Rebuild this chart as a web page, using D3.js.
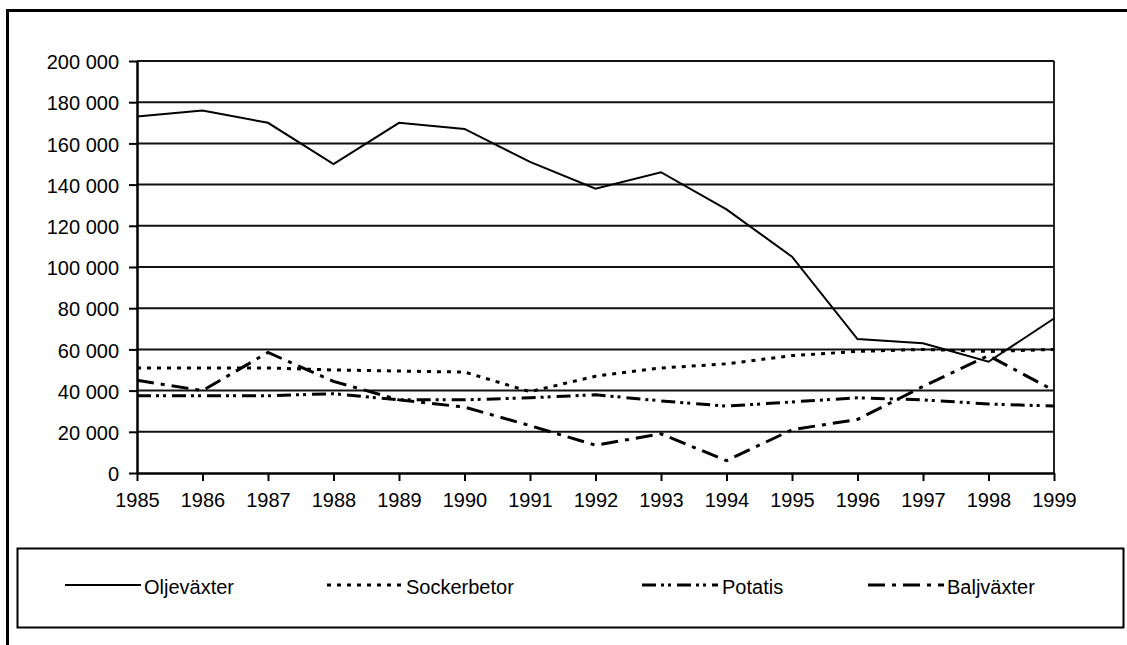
<!DOCTYPE html>
<html>
<head>
<meta charset="utf-8">
<script src="https://cdn.jsdelivr.net/npm/d3@7"></script>
<style>
  body { margin: 0; background: #fff; }
  svg text { font-family: "Liberation Sans", Arial, sans-serif; font-size: 20px; fill: #000; }
</style>
</head>
<body>
<div class="viz"></div>
<script>
// data (hectares per year)
var years = [1985, 1986, 1987, 1988, 1989, 1990, 1991, 1992, 1993, 1994, 1995, 1996, 1997, 1998, 1999];
var oljevaxter = [173000, 176000, 170000, 150000, 170000, 167000, 151000, 138000, 146000, 128000, 105000, 65000, 63000, 54000, 75000];
var sockerbetor = [51000, 51000, 51000, 50000, 49500, 49000, 39500, 47000, 51000, 53000, 57000, 59000, 60000, 59000, 60000];
var potatis = [37500, 37500, 37500, 38500, 35500, 35500, 36500, 38000, 35000, 32500, 34500, 36500, 35500, 33500, 32500];
var baljvaxter = [45000, 40000, 58500, 44500, 35500, 32000, 23000, 13500, 19000, 6000, 21000, 26000, 42000, 57000, 40000];
var seriesNames = ['Oljeväxter', 'Sockerbetor', 'Potatis', 'Baljväxter'];
var yTicks = [0, 20000, 40000, 60000, 80000, 100000, 120000, 140000, 160000, 180000, 200000];

var width = 1127, height = 645;
var plot = { left: 137, right: 1054, top: 61, bottom: 473 };

var styles = [
    { dash: null, width: 2 },
    { dash: '4,6', width: 3 },
    { dash: '14,5,3,4,3,6', width: 3 },
    { dash: '17,7,4,7', width: 3 }
];

var svg = d3.select('.viz').append('svg')
    .attr('width', width)
    .attr('height', height);

// outer frame (only top and left edges are visible in the crop)
svg.append('path')
    .attr('d', 'M7.5,' + height + 'V10.5H' + width)
    .attr('fill', 'none')
    .attr('stroke', '#000')
    .attr('stroke-width', 3);

var x = d3.scalePoint()
    .domain(years)
    .range([plot.left, plot.right])
    .padding(0);

var y = d3.scaleLinear()
    .domain([0, 200000])
    .range([plot.bottom, plot.top]);

var se = d3.formatLocale({ decimal: ',', thousands: ' ', grouping: [3], currency: ['', ''] });
var fmt = se.format(',d');

// gridlines
svg.append('g').selectAll('line')
    .data(yTicks.filter(function (d) { return d > 0; }))
    .enter().append('line')
    .attr('x1', plot.left)
    .attr('x2', plot.right)
    .attr('y1', function (d) { return y(d); })
    .attr('y2', function (d) { return y(d); })
    .attr('stroke', '#111')
    .attr('stroke-width', 2);

// right edge of plot
svg.append('line')
    .attr('x1', plot.right).attr('x2', plot.right)
    .attr('y1', plot.top).attr('y2', plot.bottom)
    .attr('stroke', '#222')
    .attr('stroke-width', 2);

var yAxis = svg.append('g')
    .attr('transform', 'translate(' + plot.left + ',0)')
    .call(d3.axisLeft(y).tickValues(yTicks).tickFormat(fmt).tickSize(8).tickSizeOuter(0).tickPadding(10));

var xAxis = svg.append('g')
    .attr('transform', 'translate(0,' + plot.bottom + ')')
    .call(d3.axisBottom(x).tickSize(8).tickSizeOuter(0).tickPadding(12));

[yAxis, xAxis].forEach(function (a) {
    a.select('.domain').attr('stroke', '#000').attr('stroke-width', 2.5);
    a.selectAll('.tick line').attr('stroke', '#000').attr('stroke-width', 2);
    a.selectAll('text')
        .attr('font-family', '"Liberation Sans", Arial, sans-serif')
        .attr('font-size', 20)
        .attr('fill', '#000');
});
yAxis.selectAll('text').attr('dy', '0.38em');
xAxis.selectAll('text').attr('dy', '0.71em');

var allSeries = [oljevaxter, sockerbetor, potatis, baljvaxter];

var line = d3.line()
    .x(function (d, i) { return x(years[i]); })
    .y(function (d) { return y(d); });

// draw the varying ones first, solid last like in the picture
[3, 2, 1, 0].forEach(function (k) {
    svg.append('path')
        .datum(allSeries[k])
        .attr('d', line)
        .attr('fill', 'none')
        .attr('stroke', '#000')
        .attr('stroke-width', styles[k].width)
        .attr('stroke-dasharray', styles[k].dash);
});

// legend
var legend = svg.append('g');
legend.append('rect')
    .attr('x', 17.5).attr('y', 548.5)
    .attr('width', 1106).attr('height', 79)
    .attr('fill', 'none')
    .attr('stroke', '#000')
    .attr('stroke-width', 2);

var legendX = [65, 327, 642, 868];
var legendY = 585;

seriesNames.forEach(function (name, k) {
    legend.append('line')
        .attr('x1', legendX[k]).attr('x2', legendX[k] + 76)
        .attr('y1', legendY).attr('y2', legendY)
        .attr('stroke', '#000')
        .attr('stroke-width', styles[k].width)
        .attr('stroke-dasharray', styles[k].dash);
    legend.append('text')
        .attr('x', legendX[k] + (k === 2 ? 80 : 79))
        .attr('y', legendY + 9)
        .text(name);
});
</script>
</body>
</html>
